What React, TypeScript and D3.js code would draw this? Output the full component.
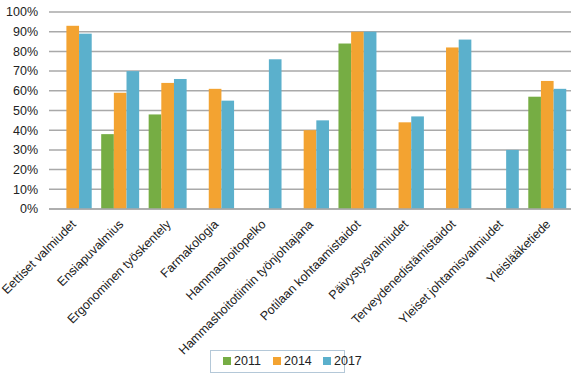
import React from "react";
import * as d3 from "d3";

const categories = [
  "Eettiset valmiudet",
  "Ensiapuvalmius",
  "Ergonominen työskentely",
  "Farmakologia",
  "Hammashoitopelko",
  "Hammashoitotiimin työnjohtajana",
  "Potilaan kohtaamistaidot",
  "Päivystysvalmiudet",
  "Terveydenedistämistaidot",
  "Yleiset johtamisvalmiudet",
  "Yleislääketiede",
];
const seriesNames = ["2011", "2014", "2017"];
const values2011: (number | null)[] = [null, 38, 48, null, null, null, 84, null, null, null, 57];
const values2014: (number | null)[] = [93, 59, 64, 61, null, 40, 90, 44, 82, null, 65];
const values2017: (number | null)[] = [89, 70, 66, 55, 76, 45, 90, 47, 86, 30, 61];
const yTicks = [0, 10, 20, 30, 40, 50, 60, 70, 80, 90, 100];
const colors = ["#76ad44", "#f3a331", "#5bb0cc"];

const W = 579;
const H = 377;
const left = 49;
const right = 571;
const top = 12;
const bottom = 209;
const FONT = "'Liberation Sans', Arial, sans-serif";

export default function App() {
  const series = [values2011, values2014, values2017];
  const x = d3.scaleBand<string>().domain(categories).range([left, right]).paddingInner(0.2).paddingOuter(0.1);
  const x1 = d3.scaleBand<string>().domain(seriesNames).range([0, x.bandwidth()]);
  const y = d3.scaleLinear().domain([0, 100]).range([bottom, top]);

  return (
    <svg width={W} height={H} style={{ position: "absolute", left: 0, top: 0, background: "#fff" }}>
      {yTicks.map((t) => (
        <g key={t}>
          <line x1={left} x2={right} y1={y(t)} y2={y(t)} stroke="#a9a9a9" strokeWidth={1.5} />
          <text x={38} y={y(t)} dy="0.35em" textAnchor="end" fontFamily={FONT} fontSize={12.5} fill="#222">
            {t}%
          </text>
        </g>
      ))}
      {categories.map((c, i) => (
        <g key={c}>
          {series.map((s, j) =>
            s[i] == null ? null : (
              <rect
                key={j}
                x={(x(c) as number) + (x1(seriesNames[j]) as number)}
                y={y(s[i] as number)}
                width={x1.bandwidth()}
                height={bottom - y(s[i] as number)}
                fill={colors[j]}
              />
            )
          )}
          <text
            transform={`translate(${(x(c) as number) + x.bandwidth() / 2 + 4},${bottom + 16}) rotate(-45)`}
            textAnchor="end"
            fontFamily={FONT}
            fontSize={12.5}
            fill="#222"
          >
            {c}
          </text>
        </g>
      ))}
      <line x1={left} x2={right} y1={bottom} y2={bottom} stroke="#a9a9a9" strokeWidth={1.5} />
      <g>
        <rect x={210.5} y={350.5} width={134} height={22} fill="#fff" stroke="#b4c8d8" strokeWidth={1} />
        {seriesNames.map((n, j) => (
          <g key={n} transform={`translate(${223 + j * 50},0)`}>
            <rect x={0} y={357} width={8} height={8} fill={colors[j]} />
            <text x={11} y={361} dy="0.35em" fontFamily={FONT} fontSize={12.5} fill="#222">
              {n}
            </text>
          </g>
        ))}
      </g>
    </svg>
  );
}
